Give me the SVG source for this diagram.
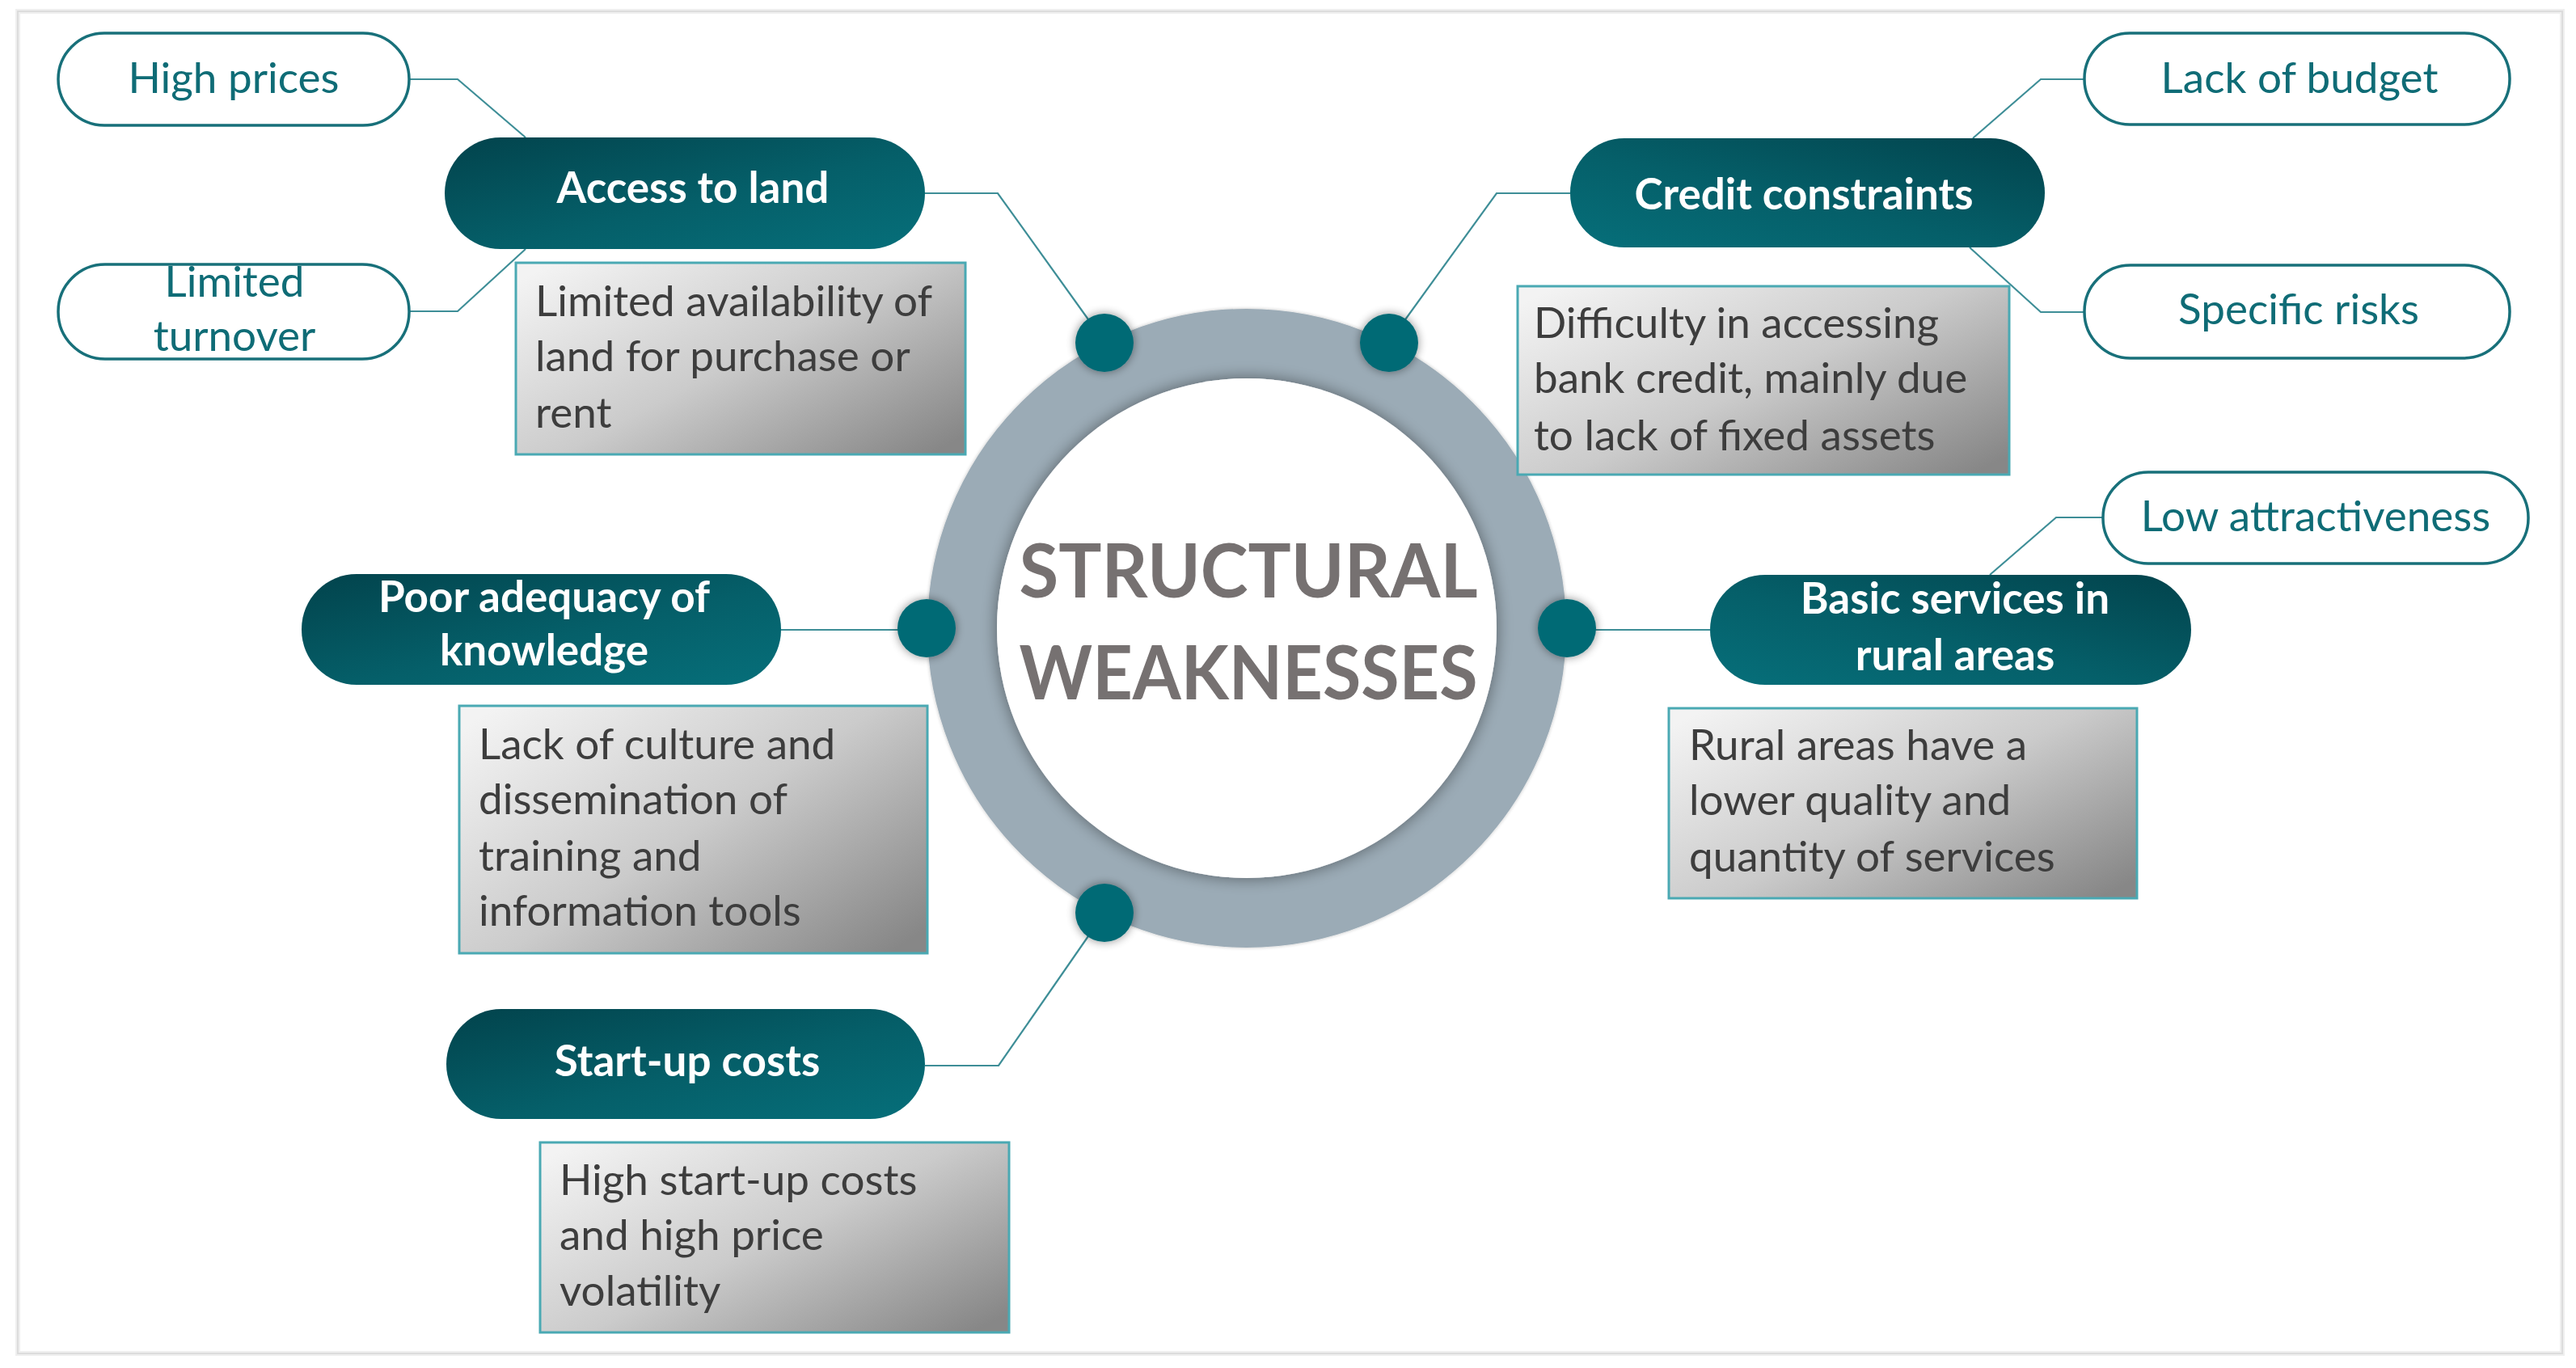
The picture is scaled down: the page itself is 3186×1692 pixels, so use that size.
<svg xmlns="http://www.w3.org/2000/svg" width="3186" height="1692" viewBox="0 0 3186 1692">
  <defs>
    <linearGradient id="pillL" x1="0" y1="0" x2="1" y2="1">
      <stop offset="0" stop-color="#02434c"/>
      <stop offset="0.55" stop-color="#055f69"/>
      <stop offset="1" stop-color="#066f7a"/>
    </linearGradient>
    <linearGradient id="pillR" x1="1" y1="0" x2="0" y2="1">
      <stop offset="0" stop-color="#02434c"/>
      <stop offset="0.55" stop-color="#055f69"/>
      <stop offset="1" stop-color="#066f7a"/>
    </linearGradient>
    <linearGradient id="boxG" x1="0" y1="0.1" x2="1" y2="0.9">
      <stop offset="0" stop-color="#f3f3f3"/>
      <stop offset="0.5" stop-color="#cbcbcb"/>
      <stop offset="1" stop-color="#878787"/>
    </linearGradient>
    <filter id="soft" x="-40%" y="-40%" width="180%" height="180%">
      <feGaussianBlur in="SourceAlpha" stdDeviation="6"/>
      <feComponentTransfer><feFuncA type="linear" slope="0.45"/></feComponentTransfer>
      <feMerge><feMergeNode/><feMergeNode in="SourceGraphic"/></feMerge>
    </filter>
    <filter id="inner" x="-20%" y="-20%" width="140%" height="140%">
      <feGaussianBlur in="SourceAlpha" stdDeviation="10"/>
      <feComponentTransfer><feFuncA type="linear" slope="0.45"/></feComponentTransfer>
      <feMerge><feMergeNode/><feMergeNode in="SourceGraphic"/></feMerge>
    </filter>
    <filter id="glow" filterUnits="userSpaceOnUse" x="1100" y="335" width="884" height="884">
      <feGaussianBlur in="SourceAlpha" stdDeviation="2"/>
      <feComponentTransfer><feFuncA type="linear" slope="0.25"/></feComponentTransfer>
      <feMerge><feMergeNode/><feMergeNode in="SourceGraphic"/></feMerge>
    </filter>
  </defs>
  <style>
    .mainT { font-family: Lato, "Liberation Sans", sans-serif; font-weight: 700; font-size: 53px; fill: #ffffff; text-anchor: middle; }
    .leaf { fill: #ffffff; stroke: #18707a; stroke-width: 3.5; }
    .leafT { font-family: Lato, "Liberation Sans", sans-serif; font-size: 53px; fill: #0f6c76; text-anchor: middle; }
    .box { fill: url(#boxG); stroke: #4aa9b3; stroke-width: 3; }
    .boxT { font-family: Lato, "Liberation Sans", sans-serif; font-size: 53px; fill: #3d3d3d; }
    .conn { fill: none; stroke: #3e8e97; stroke-width: 2.2; }
    .dot { fill: #036a74; }
    .title { font-family: Lato, "Liberation Sans", sans-serif; font-weight: 700; font-size: 92px; fill: #767171; text-anchor: middle; }
  </style>

  <rect x="22" y="14" width="3147" height="1660" fill="#ffffff" stroke="#efefef" stroke-width="6"/>
  <rect x="22" y="14" width="3147" height="1660" fill="none" stroke="#dcdcdc" stroke-width="2"/>

  <g id="connectors">
    <path class="conn" d="M506,98 H566 L650,170"/>
    <path class="conn" d="M506,385 H566 L650,308"/>
    <path class="conn" d="M1144,239 H1234 L1366,423"/>
    <path class="conn" d="M1942,239 H1851 L1718,423"/>
    <path class="conn" d="M2578,98 H2524 L2440,171"/>
    <path class="conn" d="M2578,386 H2524 L2436,306"/>
    <path class="conn" d="M966,779 H1145"/>
    <path class="conn" d="M2115,779 H1938"/>
    <path class="conn" d="M2601,640 H2543 L2461,711"/>
    <path class="conn" d="M1144,1318 H1235 L1366,1129"/>
  </g>

  <g id="center">
    <circle cx="1542" cy="777" r="352" fill="none" stroke="#9babb6" stroke-width="86" filter="url(#glow)"/>
    <circle cx="1542" cy="777" r="309" fill="#ffffff" filter="url(#inner)"/>
    <text class="title" x="1544" y="739" textLength="567" lengthAdjust="spacingAndGlyphs">STRUCTURAL</text>
    <text class="title" x="1544" y="865" textLength="567" lengthAdjust="spacingAndGlyphs">WEAKNESSES</text>
  </g>

  <g id="dots">
    <circle class="dot" cx="1366" cy="424" r="36" filter="url(#soft)"/>
    <circle class="dot" cx="1718" cy="424" r="36" filter="url(#soft)"/>
    <circle class="dot" cx="1146" cy="777" r="36" filter="url(#soft)"/>
    <circle class="dot" cx="1938" cy="777" r="36" filter="url(#soft)"/>
    <circle class="dot" cx="1366" cy="1129" r="36" filter="url(#soft)"/>
  </g>

  <g id="access-to-land">
    <rect x="550" y="170" width="594" height="138" rx="69" fill="url(#pillL)"/>
    <text class="mainT" x="857" y="251">Access to land</text>
  </g>
  <g id="high-prices">
    <rect class="leaf" x="72" y="41" width="434" height="114" rx="57"/>
    <text class="leafT" x="289" y="115">High prices</text>
  </g>
  <g id="limited-turnover">
    <rect class="leaf" x="72" y="327" width="434" height="117" rx="58"/>
    <text class="leafT" x="290" y="367">Limited</text>
    <text class="leafT" x="290" y="434">turnover</text>
  </g>
  <g id="access-desc">
    <rect class="box" x="638" y="325" width="556" height="237"/>
    <text class="boxT" x="662" y="391">Limited availability of</text>
    <text class="boxT" x="662" y="459">land for purchase or</text>
    <text class="boxT" x="662" y="529">rent</text>
  </g>

  <g id="credit-constraints">
    <rect x="1942" y="171" width="587" height="135" rx="67" fill="url(#pillR)"/>
    <text class="mainT" x="2231" y="259">Credit constraints</text>
  </g>
  <g id="lack-of-budget">
    <rect class="leaf" x="2578" y="41" width="526" height="113" rx="56"/>
    <text class="leafT" x="2844" y="115">Lack of budget</text>
  </g>
  <g id="specific-risks">
    <rect class="leaf" x="2578" y="328" width="526" height="115" rx="57"/>
    <text class="leafT" x="2843" y="401">Specific risks</text>
  </g>
  <g id="credit-desc">
    <rect class="box" x="1877" y="354" width="608" height="233"/>
    <text class="boxT" x="1897" y="418">Difficulty in accessing</text>
    <text class="boxT" x="1897" y="486">bank credit, mainly due</text>
    <text class="boxT" x="1897" y="557">to lack of fixed assets</text>
  </g>

  <g id="poor-adequacy">
    <rect x="373" y="710" width="593" height="137" rx="68" fill="url(#pillL)"/>
    <text class="mainT" x="673" y="757">Poor adequacy of</text>
    <text class="mainT" x="673" y="823">knowledge</text>
  </g>
  <g id="knowledge-desc">
    <rect class="box" x="568" y="873" width="579" height="306"/>
    <text class="boxT" x="592" y="939">Lack of culture and</text>
    <text class="boxT" x="592" y="1007">dissemination of</text>
    <text class="boxT" x="592" y="1077">training and</text>
    <text class="boxT" x="592" y="1145">information tools</text>
  </g>

  <g id="basic-services">
    <rect x="2115" y="711" width="595" height="136" rx="68" fill="url(#pillR)"/>
    <text class="mainT" x="2418" y="759">Basic services in</text>
    <text class="mainT" x="2418" y="829">rural areas</text>
  </g>
  <g id="low-attractiveness">
    <rect class="leaf" x="2601" y="584" width="526" height="113" rx="56"/>
    <text class="leafT" x="2864" y="657">Low attractiveness</text>
  </g>
  <g id="services-desc">
    <rect class="box" x="2064" y="876" width="579" height="235"/>
    <text class="boxT" x="2089" y="940">Rural areas have a</text>
    <text class="boxT" x="2089" y="1008">lower quality and</text>
    <text class="boxT" x="2089" y="1078">quantity of services</text>
  </g>

  <g id="start-up-costs">
    <rect x="552" y="1248" width="592" height="136" rx="68" fill="url(#pillL)"/>
    <text class="mainT" x="850" y="1331">Start-up costs</text>
  </g>
  <g id="startup-desc">
    <rect class="box" x="668" y="1413" width="580" height="235"/>
    <text class="boxT" x="692" y="1478">High start-up costs</text>
    <text class="boxT" x="692" y="1546">and high price</text>
    <text class="boxT" x="692" y="1615">volatility</text>
  </g>
</svg>
